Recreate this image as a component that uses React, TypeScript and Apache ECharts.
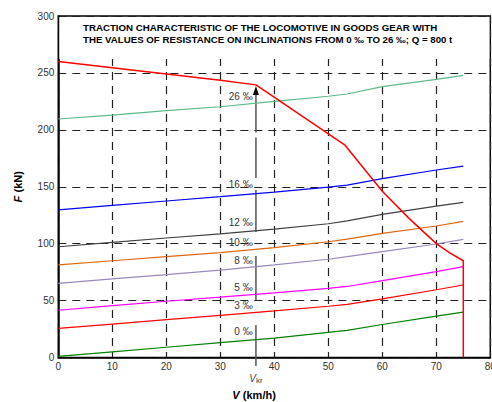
import React, { useEffect, useRef } from "react";
import * as echarts from "echarts";

// Speed points (km/h) for the resistance curves
const speeds = [0, 10, 20, 30, 40, 50, 53.5, 60, 70, 75];

// Resistance F (kN) on inclinations (‰)
const res0 = [1, 5, 9, 13, 17, 22, 23.8, 29, 36.3, 39.8];
const res3 = [25.6, 29.4, 33.2, 37, 40.9, 45, 46.6, 51.5, 59.5, 63.7];
const res5 = [41.5, 45.5, 49.4, 53, 56.8, 60.8, 62.4, 67.5, 75.5, 79.8];
const res8 = [65.2, 69, 72.8, 76.8, 81.3, 86.3, 88.6, 93, 99.7, 103.8];
const res10 = [81.3, 85, 88.6, 92.2, 96.5, 101.7, 104, 109, 115.5, 119.6];
const res12 = [97.3, 101.2, 105, 108.6, 112.7, 117.5, 120, 125.8, 133, 136.3];
const res16 = [129.6, 133.7, 137.5, 141.3, 145.3, 149.7, 151.5, 157.2, 164.7, 168.2];
const res26 = [209.5, 213, 216.8, 220.3, 225, 229.5, 231.5, 238, 244.4, 247.9];

// Traction characteristic [V, F]
const tractionV = [0, 10, 20, 30, 36.6, 53.1, 60, 65, 70, 72.5, 75, 75];
const tractionF = [260, 254.5, 249, 243.5, 239.5, 186.5, 146, 122, 100, 92, 85, 0];

const gradeNames = ["0 ‰", "3 ‰", "5 ‰", "8 ‰", "10 ‰", "12 ‰", "16 ‰", "26 ‰"];
const gradeColors = ["#008000", "#ff0000", "#ff00ff", "#9988bb", "#dd6611", "#404040", "#0000ff", "#5fb889"];
const gradeData = [res0, res3, res5, res8, res10, res12, res16, res26];

// Label anchor points (right aligned) [V, F]
const labelV = 36;
const labelF = [22.7, 46.1, 61.7, 85, 100.9, 118.4, 152, 229];

// Critical speed and arrow segments
const vkr = 36.6;
const arrowSegments = [
  [234.6, 197.6],
  [193.2, 157.7],
  [147.2, 110.3],
  [89.2, 50.5],
  [28.6, -7.5],
];

const xTicks = [0, 80, 10];
const yTicks = [0, 300, 50];

const titleLines = [
  "TRACTION CHARACTERISTIC OF THE LOCOMOTIVE IN GOODS GEAR WITH",
  "THE VALUES OF RESISTANCE ON INCLINATIONS FROM 0 ‰ TO 26 ‰; Q = 800 t",
];

const FONT = "'Liberation Sans', Arial, sans-serif";

export default function App() {
  const ref = useRef<HTMLDivElement>(null);
  useEffect(() => {
    if (!ref.current) return;
    const chart = echarts.init(ref.current, null, { renderer: "svg" });

    const series: any[] = [];
    gradeData.forEach((arr, i) => {
      series.push({
        type: "line",
        name: gradeNames[i],
        data: speeds.map((v, k) => [v, arr[k]]),
        symbol: "none",
        smooth: false,
        lineStyle: { color: gradeColors[i], width: 1.2 },
        z: 3,
      });
    });
    series.push({
      type: "line",
      name: "traction",
      data: tractionV.map((v, k) => [v, tractionF[k]]),
      symbol: "none",
      lineStyle: { color: "#ff0000", width: 1.5 },
      z: 4,
    });
    arrowSegments.forEach((seg, i) => {
      series.push({
        type: "line",
        name: "arrow" + i,
        data:
          i === 0
            ? [
                { value: [vkr, seg[0]], symbol: "triangle", symbolSize: [6, 9] },
                { value: [vkr, seg[1]], symbol: "none" },
              ]
            : [
                [vkr, seg[0]],
                [vkr, seg[1]],
              ],
        symbol: "none",
        showSymbol: true,
        clip: false,
        itemStyle: { color: "#000" },
        lineStyle: { color: "#555", width: 1.5 },
        z: 2,
      });
    });

    const option: any = {
      animation: false,
      backgroundColor: "#fff",
      grid: {
        left: 58.3,
        right: 1.7,
        top: 16,
        bottom: 44.5,
        show: true,
        borderColor: "#000",
        borderWidth: 1.5,
        backgroundColor: "transparent",
        containLabel: false,
        outerBoundsMode: "none",
      },
      xAxis: {
        type: "value",
        min: xTicks[0],
        max: xTicks[1],
        interval: xTicks[2],
        axisLine: { show: true, lineStyle: { color: "#000", width: 1.5 } },
        axisTick: { show: false },
        axisLabel: { color: "#333", fontSize: 10, fontFamily: FONT, margin: 4, alignMaxLabel: "center", alignMinLabel: "center" },
        splitLine: { show: true, lineStyle: { color: "#222", width: 1.2, type: [8, 6] } },
      },
      yAxis: {
        type: "value",
        min: yTicks[0],
        max: yTicks[1],
        interval: yTicks[2],
        axisLine: { show: true, lineStyle: { color: "#000", width: 1.5 } },
        axisTick: { show: false },
        axisLabel: { color: "#333", fontSize: 10, fontFamily: FONT, margin: 4 },
        splitLine: { show: true, lineStyle: { color: "#222", width: 1.2, type: [8, 6] } },
      },
      series,
    };
    chart.setOption(option);

    const px = (v: number, f: number) => chart.convertToPixel({ gridIndex: 0 }, [v, f]) as number[];
    const topLeft = px(0, 300);
    const botRight = px(80, 0);

    const graphics: any[] = [
      {
        type: "rect",
        shape: { x: topLeft[0] + 1, y: topLeft[1] + 1, width: botRight[0] - topLeft[0] - 2, height: 42 },
        style: { fill: "#fff" },
        z: 1,
      },
    ];
    titleLines.forEach((t, i) => {
      graphics.push({
        type: "text",
        x: 83,
        y: 27.7 + i * 11.6,
        style: {
          text: t,
          font: `bold 9.7px ${FONT}`,
          fill: "#000",
          verticalAlign: "middle",
          align: "left",
        },
        z: 5,
      });
    });
    gradeNames.forEach((n, i) => {
      const p = px(labelV, labelF[i]);
      graphics.push({
        type: "text",
        x: p[0],
        y: p[1],
        style: {
          text: n,
          font: `10px ${FONT}`,
          fill: "#333",
          align: "right",
          verticalAlign: "middle",
        },
        z: 5,
      });
    });
    const pk = px(vkr, 0);
    graphics.push({
      type: "text",
      x: pk[0],
      y: pk[1] + 21,
      style: {
        text: "{v|V}{s|kr}",
        align: "center",
        verticalAlign: "middle",
        rich: {
          v: { fontSize: 10, fontStyle: "italic", fontFamily: FONT, fill: "#444", color: "#444" },
          s: { fontSize: 8, fontFamily: FONT, fill: "#444", color: "#444", padding: [3, 0, 0, 0] },
        },
      },
      z: 5,
    });
    graphics.push({
      type: "text",
      x: 254,
      y: 395,
      style: {
        text: "{i|V} {b|(km/h)}",
        align: "center",
        verticalAlign: "middle",
        rich: {
          i: { fontSize: 11, fontWeight: "bold", fontStyle: "italic", fontFamily: FONT, color: "#000" },
          b: { fontSize: 11, fontWeight: "bold", fontFamily: FONT, color: "#000" },
        },
      },
      z: 5,
    });
    graphics.push({
      type: "text",
      x: 17.5,
      y: (topLeft[1] + botRight[1]) / 2,
      rotation: Math.PI / 2,
      style: {
        text: "{i|F} {b|(kN)}",
        align: "center",
        verticalAlign: "middle",
        rich: {
          i: { fontSize: 11, fontWeight: "bold", fontStyle: "italic", fontFamily: FONT, color: "#000" },
          b: { fontSize: 11, fontWeight: "bold", fontFamily: FONT, color: "#000" },
        },
      },
      z: 5,
    });
    chart.setOption({ graphic: { elements: graphics } });

    return () => chart.dispose();
  }, []);
  return (
    <div
      ref={ref}
      style={{ position: "fixed", left: 0, top: 0, width: 492, height: 402, background: "#fff" }}
    />
  );
}
